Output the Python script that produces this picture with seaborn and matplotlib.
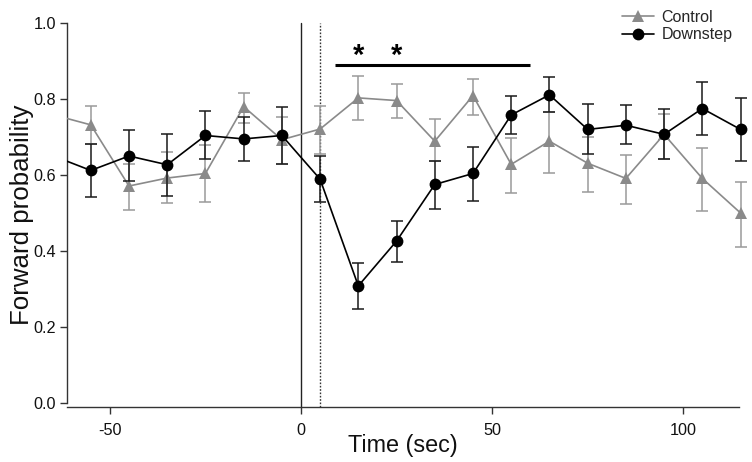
import numpy as np
import pandas as pd
import matplotlib
matplotlib.use("Agg")
import matplotlib.pyplot as plt
from matplotlib.patches import Rectangle
import seaborn as sns

# ---- data ----
time = [-65, -55, -45, -35, -25, -15, -5, 5, 15, 25, 35, 45, 55, 65, 75, 85, 95, 105, 115]

control_mean = [0.758, 0.731, 0.570, 0.591, 0.603, 0.779, 0.692, 0.720, 0.802, 0.795, 0.688, 0.808,
                0.627, 0.688, 0.630, 0.590, 0.706, 0.590, 0.499]
control_lo = [0.700, 0.680, 0.506, 0.526, 0.528, 0.736, 0.628, 0.653, 0.744, 0.748, 0.635, 0.756,
              0.552, 0.603, 0.554, 0.522, 0.640, 0.504, 0.409]
control_hi = [0.810, 0.780, 0.629, 0.659, 0.677, 0.815, 0.753, 0.780, 0.860, 0.838, 0.747, 0.853,
              0.697, 0.765, 0.698, 0.651, 0.759, 0.669, 0.580]

down_mean = [0.650, 0.611, 0.649, 0.626, 0.703, 0.694, 0.703, 0.588, 0.307, 0.425, 0.574, 0.603,
             0.757, 0.810, 0.719, 0.730, 0.706, 0.774, 0.719]
down_lo = [0.580, 0.541, 0.583, 0.544, 0.640, 0.637, 0.628, 0.527, 0.246, 0.370, 0.509, 0.530,
           0.707, 0.764, 0.653, 0.680, 0.640, 0.703, 0.637]
down_hi = [0.720, 0.680, 0.717, 0.708, 0.767, 0.753, 0.778, 0.648, 0.367, 0.477, 0.635, 0.673,
           0.806, 0.857, 0.785, 0.782, 0.772, 0.843, 0.802]

series_names = ["Control", "Downstep"]
star_times = [15, 25]
sig_start, sig_end, sig_level = 9, 60, 0.889
star_level = 0.912
xticks = [-50, 0, 50, 100]
yticks = [0.0, 0.2, 0.4, 0.6, 0.8, 1.0]

# ---- style ----
sns.set_theme(style="ticks")
plt.rcParams["font.family"] = ["Liberation Sans", "DejaVu Sans"]

GRAY = "#8a8a8a"
GRAY_ERR = "#9a9a9a"
BLACK = "#000000"

df = pd.DataFrame({
    "time": time * 2,
    "prob": control_mean + down_mean,
    "group": [series_names[0]] * len(time) + [series_names[1]] * len(time),
})

fig = plt.figure(figsize=(7.52, 4.62), dpi=100)
ax = fig.add_axes([0.0887, 0.1197, 0.894, 0.8312])

# reference lines
ax.axvline(0, color="#222222", lw=1.0, zorder=1)
ax.axvline(5, color="#333333", lw=1.0, ls=(0, (1.2, 1.2)), zorder=1)

# error bars
cm = np.array(control_mean)
eb1 = ax.errorbar(time, cm, yerr=[cm - np.array(control_lo), np.array(control_hi) - cm],
                  fmt="none", ecolor=GRAY_ERR, elinewidth=1.1, capsize=4.3, capthick=1.1, zorder=2)
dm = np.array(down_mean)
eb2 = ax.errorbar(time, dm, yerr=[dm - np.array(down_lo), np.array(down_hi) - dm],
                  fmt="none", ecolor="#1a1a1a", elinewidth=1.1, capsize=4.3, capthick=1.1, zorder=4)

# lines + markers via seaborn
sns.lineplot(data=df[df.group == "Control"], x="time", y="prob", color=GRAY, marker="^",
             markersize=8.5, markeredgewidth=0, lw=1.2, ax=ax, zorder=3, label="Control")
sns.lineplot(data=df[df.group == "Downstep"], x="time", y="prob", color=BLACK, marker="o",
             markersize=8.5, markeredgewidth=0, lw=1.2, ax=ax, zorder=5, label="Downstep")

# clip on the left edge only, let the last points at the right edge show fully
clip_rect = Rectangle((0, -0.2), 1.2, 1.4, transform=ax.transAxes, visible=False)
ax.add_patch(clip_rect)
artists = list(ax.lines)
for eb in (eb1, eb2):
    artists += list(eb.lines[1]) + list(eb.lines[2])
for a in artists:
    a.set_clip_path(clip_rect)

# significance
ax.hlines(sig_level, sig_start, sig_end, color=BLACK, lw=2.2, zorder=6)
for t in star_times:
    ax.text(t, star_level, "*", ha="center", va="center", fontsize=21, fontweight="bold", color=BLACK)

ax.set_xlim(-61.3, 114.6)
ax.set_ylim(-0.011, 1.0)
ax.set_xticks(xticks)
ax.set_xticklabels([str(v) for v in xticks])
ax.set_yticks(yticks)
ax.set_yticklabels([f"{v:.1f}" for v in yticks])
ax.tick_params(axis="both", labelsize=11.7, length=5, width=1, color="#333333", labelcolor="#111111")
ax.tick_params(axis="x", pad=6.5)
ax.tick_params(axis="y", pad=2.5)
sns.despine(ax=ax)
for s in ["left", "bottom"]:
    ax.spines[s].set_linewidth(1.0)
    ax.spines[s].set_color("#333333")
ax.spines["left"].set_bounds(0.0, 1.0)

ax.set_xlabel("Time (sec)", fontsize=16.8, labelpad=-3, color="#111111")
ax.set_ylabel("Forward probability", fontsize=18.6, labelpad=0, color="#111111")

leg = ax.legend(loc="upper right", bbox_to_anchor=(1.0, 1.05), frameon=False, fontsize=11.5,
                handlelength=2.0, handletextpad=0.5, labelspacing=0.15, borderaxespad=0)
ax.grid(False)

fig.savefig("out.png", dpi=100)
